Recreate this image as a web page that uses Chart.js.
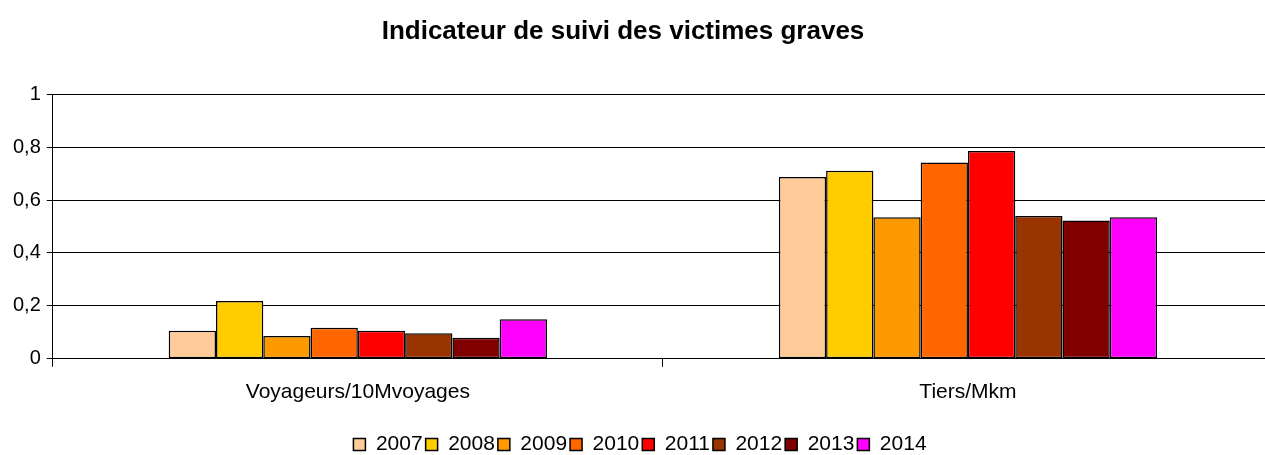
<!DOCTYPE html>
<html>
<head>
<meta charset="utf-8">
<script src="https://cdn.jsdelivr.net/npm/chart.js@4/dist/chart.umd.min.js"></script>
<style>
  html, body { margin: 0; padding: 0; background: #fff; overflow: hidden; }
  #wrap { width: 1265px; height: 455px; overflow: hidden; }
</style>
</head>
<body>
<div id="wrap"><canvas id="chart" width="1273" height="455"></canvas></div>
<script>
// données du graphique
const categories = ['Voyageurs/10Mvoyages', 'Tiers/Mkm'];
const years = ['2007', '2008', '2009', '2010', '2011', '2012', '2013', '2014'];
const values2007 = [0.106, 0.687];
const values2008 = [0.218, 0.711];
const values2009 = [0.086, 0.535];
const values2010 = [0.117, 0.742];
const values2011 = [0.106, 0.785];
const values2012 = [0.097, 0.540];
const values2013 = [0.080, 0.523];
const values2014 = [0.149, 0.535];
const yTicks = [0, 0.2, 0.4, 0.6, 0.8, 1];

const seriesValues = [values2007, values2008, values2009, values2010, values2011, values2012, values2013, values2014];
const colors = ['#FFCC99', '#FFCC00', '#FF9900', '#FF6600', '#FF0000', '#993300', '#800000', '#FF00FF'];

const FONT = 'Liberation Sans, Arial, sans-serif';
Chart.defaults.font.family = FONT;
Chart.defaults.color = '#000';

// titre centré sur la zone visible
const titleShift = {
    id: 'titleShift',
    afterLayout(chart) {
        const t = chart.titleBlock;
        t.left = 0;
        t.right = 1246;
        t.width = 1246;
    }
};

const ctx = document.getElementById('chart');

new Chart(ctx, {
    type: 'bar',
    data: {
        labels: categories,
        datasets: years.map((y, i) => ({
            label: y,
            data: seriesValues[i],
            backgroundColor: colors[i],
            borderColor: '#000',
            borderWidth: 1.5,
            borderSkipped: false,
            categoryPercentage: 0.62,
            barPercentage: 1
        }))
    },
    options: {
        responsive: false,
        animation: false,
        layout: {
            padding: { top: 16, left: 7, right: 0, bottom: -10 }
        },
        plugins: {
            title: {
                display: true,
                text: 'Indicateur de suivi des victimes graves',
                font: { size: 26, weight: 'bold', family: FONT },
                color: '#000',
                padding: { top: 0, bottom: 47 }
            },
            legend: {
                position: 'bottom',
                labels: {
                    boxWidth: 12,
                    boxHeight: 12,
                    padding: 3,
                    font: { size: 21, family: FONT },
                    color: '#000'
                }
            },
            tooltip: { enabled: false }
        },
        scales: {
            x: {
                grid: {
                    display: true,
                    offset: true,
                    drawOnChartArea: false,
                    drawTicks: true,
                    tickLength: 8,
                    color: '#000'
                },
                border: { display: true, color: '#000', width: 1 },
                ticks: {
                    padding: 13,
                    font: { size: 21, family: FONT },
                    color: '#000'
                },
                afterFit: function (scale) {
                    scale.height += 13;
                }
            },
            y: {
                min: 0,
                max: 1,
                afterBuildTicks: function (axis) {
                    axis.ticks = yTicks.map(v => ({ value: v }));
                },
                grid: {
                    color: '#000',
                    lineWidth: 1,
                    drawTicks: true,
                    tickLength: 6
                },
                border: { display: true, color: '#000', width: 1 },
                ticks: {
                    padding: 6,
                    font: { size: 20, family: FONT },
                    color: '#000',
                    callback: function (value) {
                        return String(Math.round(value * 10) / 10).replace('.', ',');
                    }
                }
            }
        }
    },
    plugins: [titleShift]
});
</script>
</body>
</html>
